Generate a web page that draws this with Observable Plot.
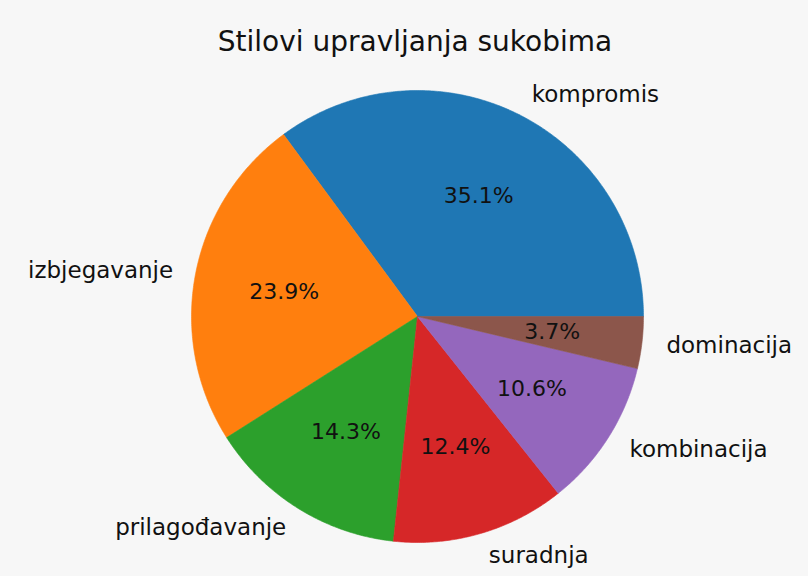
<!DOCTYPE html>
<html>
<head>
<meta charset="utf-8">
<script src="https://cdn.jsdelivr.net/npm/d3@7"></script>
<script src="https://cdn.jsdelivr.net/npm/@observablehq/plot@0.6"></script>
<style>
  html, body { margin: 0; padding: 0; background: #f7f7f7; }
  body { width: 808px; height: 576px; overflow: hidden; font-family: "DejaVu Sans", sans-serif; }
  #title { height: 60px; box-sizing: border-box; padding-top: 26px; line-height: 32px; font-size: 28px; text-align: center; color: #111; padding-left: 22px; }
  svg { display: block; }
</style>
</head>
<body>
<div id="title">Stilovi upravljanja sukobima</div>
<div id="chart"></div>
<script>
const categories = ["kompromis", "izbjegavanje", "prilagođavanje", "suradnja", "kombinacija", "dominacija"];
const shares = [35.1, 23.9, 14.3, 12.4, 10.6, 3.7];
const colors = ["#1f77b4", "#ff7f0e", "#2ca02c", "#d62728", "#9467bd", "#8c564b"];

const W = 808, H = 516;
const cx = 417, cy = 256, R = 226; // pixel layout of the pie inside the svg

const total = d3.sum(shares);
let cum = 0;
const slices = categories.map((name, i) => {
  const a0 = cum / total * 2 * Math.PI;
  cum += shares[i];
  const a1 = cum / total * 2 * Math.PI;
  return {name, value: shares[i], a0, a1, mid: (a0 + a1) / 2};
});

// polygon vertices of each wedge (unit radius, counter-clockwise from 3 o'clock)
const wedgePts = [];
for (const s of slices) {
  wedgePts.push({name: s.name, x: 0, y: 0});
  const n = Math.max(2, Math.ceil((s.a1 - s.a0) / (Math.PI / 360)));
  for (let k = 0; k <= n; k++) {
    const a = s.a0 + (s.a1 - s.a0) * k / n;
    wedgePts.push({name: s.name, x: Math.cos(a), y: Math.sin(a)});
  }
  wedgePts.push({name: s.name, x: 0, y: 0});
}

const labels = slices.map(s => ({
  name: s.name,
  x: 1.1 * Math.cos(s.mid),
  y: 1.1 * Math.sin(s.mid),
  right: Math.cos(s.mid) >= 0
}));
const pcts = slices.map(s => ({
  text: s.value.toFixed(1) + "%",
  x: 0.6 * Math.cos(s.mid),
  y: 0.6 * Math.sin(s.mid)
}));

const chart = Plot.plot({
  width: W,
  height: H,
  margin: 0,
  style: {background: "transparent", fontFamily: "DejaVu Sans, sans-serif"},
  x: {domain: [-cx / R, (W - cx) / R], range: [0, W], axis: null},
  y: {domain: [-(H - cy) / R, cy / R], range: [H, 0], axis: null},
  color: {domain: categories, range: colors},
  marks: [
    Plot.line(wedgePts, {x: "x", y: "y", z: "name", fill: "name", stroke: "name", strokeWidth: 0.6, curve: "linear"}),
    Plot.text(pcts, {x: "x", y: "y", text: "text", fontSize: 22, fill: "#111"}),
    Plot.text(labels.filter(d => d.right), {x: "x", y: "y", text: "name", fontSize: 23, fill: "#111", textAnchor: "start", dx: 2}),
    Plot.text(labels.filter(d => !d.right), {x: "x", y: "y", text: "name", fontSize: 23, fill: "#111", textAnchor: "end"})
  ]
});
document.getElementById("chart").appendChild(chart);
</script>
</body>
</html>
